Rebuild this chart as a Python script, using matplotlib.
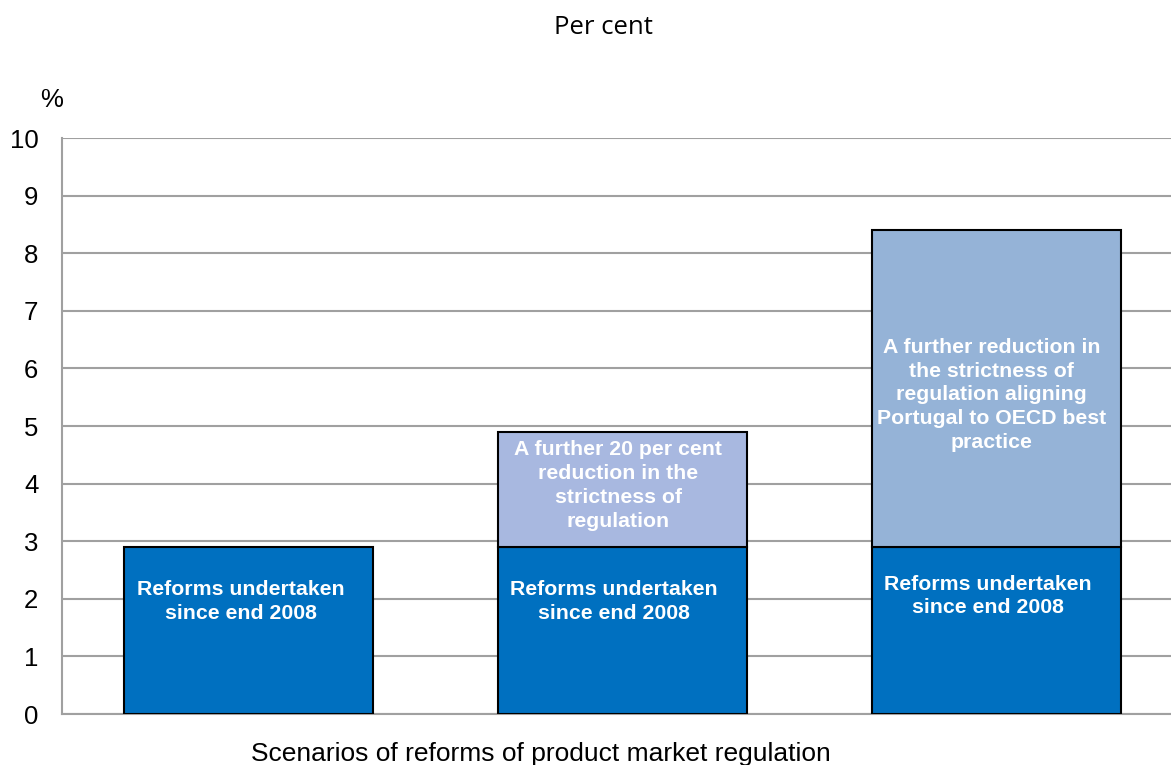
import numpy as np
import matplotlib.pyplot as plt

plt.rcParams['font.family'] = ['Liberation Sans', 'DejaVu Sans']

scenarios = ["Reforms since 2008", "Further 20% reduction", "OECD best practice"]
base_values = [2.9, 2.9, 2.9]
extra_values = [0.0, 2.0, 5.5]
base_labels = ["Reforms undertaken\nsince end 2008"] * 3
extra_labels = ["",
                "A further 20 per cent\nreduction in the\nstrictness of\nregulation",
                "A further reduction in\nthe strictness of\nregulation aligning\nPortugal to OECD best\npractice"]
extra_colors = ["#A8B8E0", "#A8B8E0", "#95B3D7"]
y_ticks = np.arange(0, 11, 1)

fig = plt.figure(figsize=(11.71, 7.65), dpi=100)
ax = fig.add_axes([62 / 1171, 51 / 765, (1183 - 62) / 1171, 576 / 765])

x = np.arange(len(scenarios))
width = 0.666

ax.bar(x, base_values, width=width, color="#0070C0", edgecolor="black", linewidth=1.5, zorder=3)
ax.bar(x[1:], extra_values[1:], width=width, bottom=base_values[1:], color=extra_colors[1:],
       edgecolor="black", linewidth=1.5, zorder=3)

base_text_y = [1.95, 1.95, 2.05]
for i in range(len(scenarios)):
    ax.text(x[i] - 0.022, base_text_y[i], base_labels[i], ha="center", va="center", color="white",
            fontsize=15.3, fontweight="bold", linespacing=1.32, zorder=4)
extra_text_y = [0, 3.97, 5.54]
for i in range(1, len(scenarios)):
    ax.text(x[i] - 0.012, extra_text_y[i], extra_labels[i], ha="center", va="center", color="white",
            fontsize=15.3, fontweight="bold", linespacing=1.32, zorder=4)

ax.set_xlim(-0.5, 2.5)
ax.set_ylim(0, 10)
ax.set_yticks(y_ticks)
ax.set_xticks([])
ax.tick_params(axis="y", length=0, labelsize=18.5, pad=17)
ax.grid(axis="y", color="#A0A0A0", linewidth=1.5, zorder=0)
for s in ["top", "right"]:
    ax.spines[s].set_visible(False)
for s in ["left", "bottom"]:
    ax.spines[s].set_color("#A0A0A0")
    ax.spines[s].set_linewidth(1.5)

ax.set_xlabel("Scenarios of reforms of product market regulation", fontsize=19)
ax.xaxis.set_label_coords((541 - 62) / (1183 - 62), -0.048)
ax.xaxis.label.set_verticalalignment("top")

fig.text(52 / 1171, 1 - 100 / 765, "%", ha="center", va="center", fontsize=18.5)
fig.text(603 / 1171, 1 - 28 / 765, "Per cent", ha="center", va="center", fontsize=18.5,
         family=["Open Sans", "DejaVu Sans"])

fig.savefig("out.png", dpi=100)
